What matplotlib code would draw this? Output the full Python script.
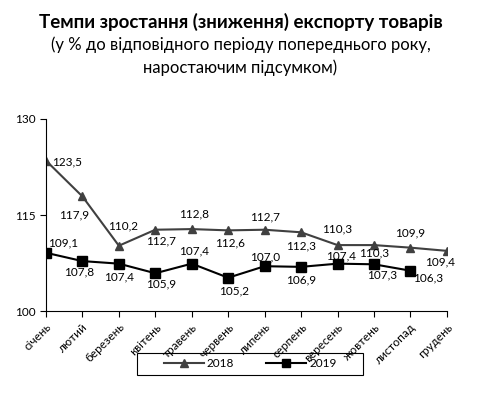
import matplotlib.pyplot as plt
from matplotlib.patches import Rectangle

plt.rcParams['font.family'] = ['Lato', 'DejaVu Sans']

months = ["січень", "лютий", "березень", "квітень", "травень", "червень",
          "липень", "серпень", "вересень", "жовтень", "листопад", "грудень"]
y2018 = [123.5, 117.9, 110.2, 112.7, 112.8, 112.6, 112.7, 112.3, 110.3, 110.3, 109.9, 109.4]
y2019 = [109.1, 107.8, 107.4, 105.9, 107.4, 105.2, 107.0, 106.9, 107.4, 107.3, 106.3]

# label offsets in pixels (dx, dy)
off2018 = [(21, -1), (-8, -18), (4, 20), (6, -11), (2, 15), (2, -13),
           (0, 13), (0, -14), (0, 16), (0, -8), (0, 15), (-7, -11)]
off2019 = [(17, 10), (-3, -11), (0, -13), (6, -11), (2, 13), (6, -13),
           (0, 9), (0, -13), (4, 8), (8, -11), (18, -7)]

fig = plt.figure(figsize=(4.81, 3.96), dpi=100)
ax = fig.add_axes([0.0956, 0.2146, 0.8334, 0.4849])

x18 = range(len(y2018))
x19 = range(len(y2019))
ax.plot(x18, y2018, color="#404040", lw=1.5, marker="^", ms=6, label="2018")
ax.plot(x19, y2019, color="black", lw=1.5, marker="s", ms=7, label="2019")

fmt = lambda v: f"{v:.1f}".replace(".", ",")
for i, v in enumerate(y2018):
    ax.annotate(fmt(v), (i, v), xytext=off2018[i], textcoords="offset pixels",
                ha="center", va="center", fontsize=8.5)
for i, v in enumerate(y2019):
    ax.annotate(fmt(v), (i, v), xytext=off2019[i], textcoords="offset pixels",
                ha="center", va="center", fontsize=8.5)

ax.set_xlim(0, 11)
ax.set_ylim(100, 130)
ax.set_yticks([100, 115, 130])
ax.set_xticks(range(12))
ax.set_xticklabels(months, rotation=45, ha="right", rotation_mode="anchor")
ax.tick_params(labelsize=8.5, length=4)
for s in ["top", "right"]:
    ax.spines[s].set_visible(False)

# legend with a wide box like the original
fig.patches.append(Rectangle((0.285, 0.053), 0.47, 0.0556, transform=fig.transFigure,
                             fill=False, edgecolor="black", lw=0.8))
fig.legend(loc="center", bbox_to_anchor=(0.52, 0.081), ncol=2, fontsize=8.5,
           frameon=False, handlelength=3.4, handletextpad=0.25, columnspacing=2.7,
           markerscale=0.85)

fig.text(0.5, 0.945, "Темпи зростання (зниження) експорту товарів", ha="center",
         va="center", fontsize=13.5, fontweight="bold")
fig.text(0.5, 0.886, "(у % до відповідного періоду попереднього року,", ha="center",
         va="center", fontsize=12)
fig.text(0.5, 0.828, "наростаючим підсумком)", ha="center", va="center", fontsize=12)

fig.savefig("out.png", dpi=100)
